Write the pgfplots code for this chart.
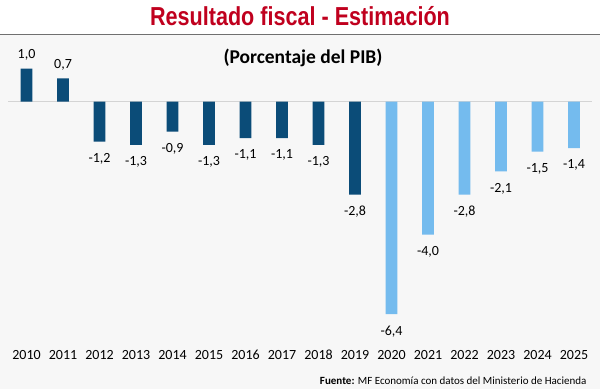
\documentclass[border=0pt]{standalone}
\usepackage{pgfplots}
\pgfplotsset{compat=1.18}
\usepackage{fontspec}
\setmainfont{Carlito}
\newfontfamily\titlefont{Liberation Sans}
\definecolor{darkbar}{HTML}{0B4C78}
\definecolor{lightbar}{HTML}{74BBEE}
\definecolor{titlered}{HTML}{C0001E}
\definecolor{bg}{HTML}{F7F7F7}
\definecolor{zeroline}{HTML}{D4D4D4}
\definecolor{sep}{HTML}{707070}
\begin{document}
\begin{tikzpicture}[x=1pt,y=1pt]
\useasboundingbox (0,0) rectangle (600,389);
\fill[white] (0,0) rectangle (600,389);
\fill[bg] (0,0) rectangle (600,354.5);
\draw[sep, line width=1.5pt] (0,354.5) -- (600,354.5);
\node[font=\titlefont\bfseries\fontsize{26}{29}\selectfont, text=titlered] at (300,372.5) {\scalebox{0.83}[1]{Resultado fiscal - Estimación}};
\node[font=\bfseries\fontsize{19.5}{22}\selectfont] at (303,331) {(Porcentaje del PIB)};
\node[anchor=east, font=\fontsize{11}{13}\selectfont] at (590,8) {\textbf{Fuente:} MF Economía con datos del Ministerio de Hacienda};
\begin{axis}[
  at={(8.25pt,54.9pt)}, anchor=south west,
  scale only axis, width=584pt, height=282.2pt,
  xmin=-0.5, xmax=15.5, ymin=-7, ymax=1.5,
  axis line style={draw=none},
  ytick=\empty,
  xtick={0,...,15},
  xticklabels={2010,2011,2012,2013,2014,2015,2016,2017,2018,2019,2020,2021,2022,2023,2024,2025},
  major tick length=0pt,
  xticklabel style={anchor=center, yshift=-21pt, font=\fontsize{14}{16}\selectfont},
  ybar, bar width=11.6pt, bar shift=0pt,
  clip=false,
  /pgf/number format/assume math mode=true,
  nodes near coords={\pgfmathprintnumber[fixed,fixed zerofill,precision=1,use comma]{\pgfplotspointmeta}},
  nodes near coords style={font=\fontsize{14}{16}\selectfont, anchor=center, text=black},
]
\draw[zeroline, line width=1pt] (axis cs:-0.5,0) -- (axis cs:15.5,0);
\addplot[fill=darkbar, draw=none, every node near coord/.append style={yshift=14pt}] coordinates {(0,1.0) (1,0.7)};
\addplot[fill=darkbar, draw=none, every node near coord/.append style={yshift=-17pt}] coordinates {(2,-1.2) (3,-1.3) (4,-0.9) (5,-1.3) (6,-1.1) (7,-1.1) (8,-1.3) (9,-2.8)};
\addplot[fill=lightbar, draw=none, every node near coord/.append style={yshift=-17pt}] coordinates {(10,-6.4) (11,-4.0) (12,-2.8) (13,-2.1) (14,-1.5) (15,-1.4)};
\end{axis}
\end{tikzpicture}
\end{document}
